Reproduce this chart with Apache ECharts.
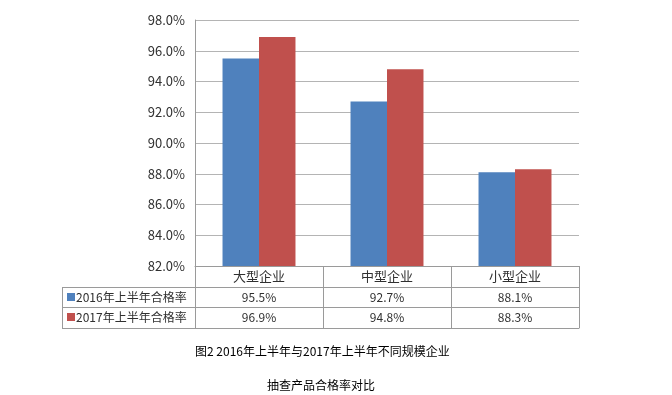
<!DOCTYPE html>
<html><head><meta charset="utf-8">
<script src="https://cdn.jsdelivr.net/npm/echarts@6/dist/echarts.min.js"></script>
<style>html,body{margin:0;padding:0;background:#fff}#c{width:672px;height:395px}</style>
</head><body><div id="c"></div>
<script>
var categories = ['大型企业', '中型企业', '小型企业'];
var seriesNames = ['2016年上半年合格率', '2017年上半年合格率'];
var s2016 = [95.5, 92.7, 88.1];
var s2017 = [96.9, 94.8, 88.3];
var yTicks = [82, 84, 86, 88, 90, 92, 94, 96, 98];
var caption1 = '图2 2016年上半年与2017年上半年不同规模企业';
var caption2 = '抽查产品合格率对比';

var colors = ['#4F81BD', '#C0504D'];
var font = '"Noto Sans CJK SC", "Liberation Sans", sans-serif';
var lineColor = '#9a9a9a';
var txt = '#303030';
function pct(v){ return v.toFixed(1) + '%'; }

var chart = echarts.init(document.getElementById('c'), null, {renderer: 'canvas'});
var rowAxis = function(vals, off, showLabel){
  return {
    type: 'category', position: 'bottom', offset: off, gridIndex: 0,
    data: vals.map(function(v){ return showLabel ? pct(v) : ''; }),
    axisLine: {show: true, lineStyle: {color: lineColor, width: 1}},
    axisTick: {show: false},
    axisLabel: {show: showLabel, margin: 4, verticalAlign: 'top', fontSize: 12, color: txt, fontFamily: font}
  };
};
chart.setOption({
  animation: false,
  color: colors,
  grid: {left: 195, right: 93, top: 20, bottom: 129, containLabel: false},
  xAxis: [
    {
      type: 'category', data: categories, position: 'bottom',
      axisLine: {show: true, lineStyle: {color: lineColor, width: 1}},
      axisTick: {show: true, length: 62, alignWithLabel: false, lineStyle: {color: lineColor}},
      axisLabel: {margin: 4, verticalAlign: 'top', fontSize: 13, color: txt, fontFamily: font}
    },
    rowAxis(s2016, 21, true),
    rowAxis(s2017, 41, true),
    rowAxis(s2017, 62, false)
  ],
  yAxis: {
    type: 'value', min: yTicks[0], max: yTicks[yTicks.length - 1], interval: 2,
    axisLine: {show: true, lineStyle: {color: lineColor, width: 1}},
    axisTick: {show: false},
    splitLine: {show: true, lineStyle: {color: '#b4b4b4', width: 1}},
    axisLabel: {formatter: function(v){ return pct(v); }, fontSize: 13, color: txt, fontFamily: font, margin: 10}
  },
  series: [
    {name: seriesNames[0], type: 'bar', data: s2016, barGap: '0%', barCategoryGap: '43%', itemStyle: {color: colors[0]}},
    {name: seriesNames[1], type: 'bar', data: s2017, barGap: '0%', barCategoryGap: '43%', itemStyle: {color: colors[1]}}
  ],
  graphic: [
    {type: 'line', shape: {x1: 62, y1: 287.5, x2: 195, y2: 287.5}, style: {stroke: lineColor, lineWidth: 1}},
    {type: 'line', shape: {x1: 62, y1: 307.5, x2: 195, y2: 307.5}, style: {stroke: lineColor, lineWidth: 1}},
    {type: 'line', shape: {x1: 62, y1: 328.5, x2: 195, y2: 328.5}, style: {stroke: lineColor, lineWidth: 1}},
    {type: 'line', shape: {x1: 62.5, y1: 287, x2: 62.5, y2: 328}, style: {stroke: lineColor, lineWidth: 1}},
    {type: 'rect', shape: {x: 67, y: 293, width: 8, height: 8}, style: {fill: colors[0]}},
    {type: 'rect', shape: {x: 67, y: 313, width: 8, height: 8}, style: {fill: colors[1]}},
    {type: 'text', x: 76, y: 297.5, style: {text: seriesNames[0], font: '12px ' + font, fill: txt, verticalAlign: 'middle'}},
    {type: 'text', x: 76, y: 317.5, style: {text: seriesNames[1], font: '12px ' + font, fill: txt, verticalAlign: 'middle'}},
    {type: 'text', x: 195, y: 351, style: {text: caption1, font: '12px ' + font, fill: '#000', verticalAlign: 'middle'}},
    {type: 'text', x: 267, y: 385, style: {text: caption2, font: '12px ' + font, fill: '#000', verticalAlign: 'middle'}}
  ]
});
</script></body></html>
